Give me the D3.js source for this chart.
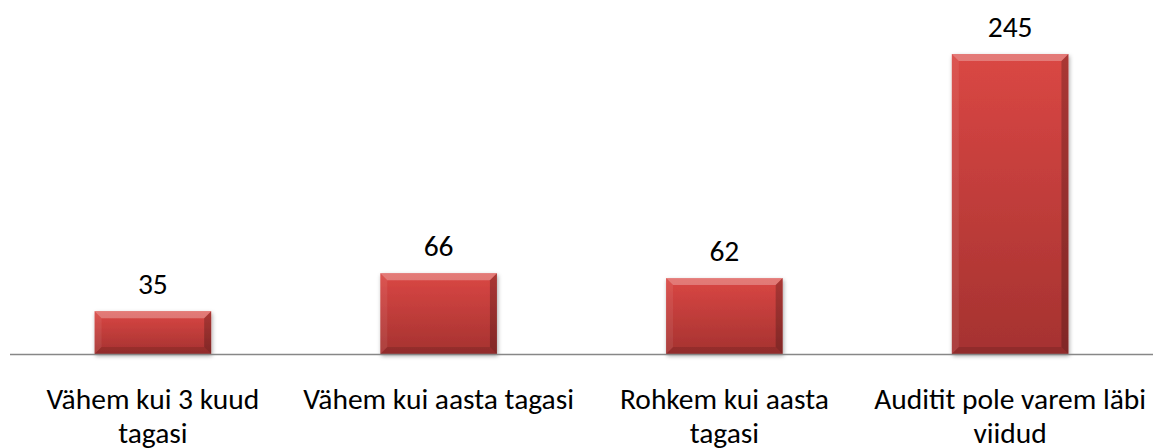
<!DOCTYPE html>
<html>
<head>
<meta charset="utf-8">
<script src="https://cdn.jsdelivr.net/npm/d3@7"></script>
<style>
  body { margin: 0; background: #fff; }
  svg text { font-family: Calibri, Carlito, Lato, sans-serif; fill: #000; }
</style>
</head>
<body>
<div id="chart"></div>
<script>
var width = 1153
var height = 448

// data
var categories = ["Vähem kui 3 kuud tagasi", "Vähem kui aasta tagasi", "Rohkem kui aasta tagasi", "Auditit pole varem läbi viidud"]
var values = [35, 66, 62, 245]

var fontSize = 29.5
var bevel = 7

var svg = d3.select("#chart").append("svg")
  .attr("width", width)
  .attr("height", height)

var defs = svg.append("defs")

var grad = defs.append("linearGradient")
  .attr("id", "barFill")
  .attr("x1", 0).attr("y1", 0).attr("x2", 0).attr("y2", 1)
grad.append("stop").attr("offset", "0%").attr("stop-color", "#da4744")
grad.append("stop").attr("offset", "100%").attr("stop-color", "#a53230")

var shadow = defs.append("filter")
  .attr("id", "shadow")
  .attr("x", "-10%").attr("y", "-10%").attr("width", "130%").attr("height", "130%")
shadow.append("feDropShadow")
  .attr("dx", 1).attr("dy", 2)
  .attr("stdDeviation", 2)
  .attr("flood-color", "#000")
  .attr("flood-opacity", 0.35)

var x = d3.scaleBand()
  .domain(categories)
  .range([10, 1153])
  .paddingInner(0.592)
  .paddingOuter(0.296)

var y = d3.scaleLinear()
  .domain([0, 245])
  .range([354, 54])

var data = categories.map(function(c, i) { return {name: c, value: values[i]} })

// bars
var bar = svg.selectAll(".bar")
  .data(data)
  .enter().append("g")
  .attr("class", "bar")

bar.append("rect")
  .attr("x", function(d) { return x(d.name) })
  .attr("y", function(d) { return y(d.value) })
  .attr("width", x.bandwidth())
  .attr("height", function(d) { return y(0) - y(d.value) })
  .attr("fill", "url(#barFill)")
  .attr("filter", "url(#shadow)")

function bevelPath(d, side) {
  var x0 = x(d.name), x1 = x0 + x.bandwidth()
  var y0 = y(d.value), y1 = y(0)
  var b = bevel
  var pts
  if (side == "top") pts = [[x0, y0], [x1, y0], [x1 - b, y0 + b], [x0 + b, y0 + b]]
  if (side == "left") pts = [[x0, y0], [x0 + b, y0 + b], [x0 + b, y1 - b], [x0, y1]]
  if (side == "right") pts = [[x1, y0], [x1, y1], [x1 - b, y1 - b], [x1 - b, y0 + b]]
  if (side == "bottom") pts = [[x0, y1], [x1, y1], [x1 - b, y1 - b], [x0 + b, y1 - b]]
  return "M" + pts.join("L") + "Z"
}

var bevels = [
  {side: "top", fill: "#fff", opacity: 0.28},
  {side: "left", fill: "#fff", opacity: 0.07},
  {side: "right", fill: "#000", opacity: 0.22},
  {side: "bottom", fill: "#000", opacity: 0.12}
]

bevels.forEach(function(bv) {
  bar.append("path")
    .attr("d", function(d) { return bevelPath(d, bv.side) })
    .attr("fill", bv.fill)
    .attr("fill-opacity", bv.opacity)
})

// value labels
bar.append("text")
  .attr("x", function(d) { return x(d.name) + x.bandwidth() / 2 })
  .attr("y", function(d) { return y(d.value) - 17 })
  .attr("text-anchor", "middle")
  .style("font-size", fontSize + "px")
  .text(function(d) { return d.value })

// axis line
svg.append("line")
  .attr("x1", 10).attr("x2", 1153)
  .attr("y1", y(0) + 0.5).attr("y2", y(0) + 0.5)
  .attr("stroke", "#878787")
  .attr("stroke-width", 1.3)

// category labels, wrapped
var labels = svg.selectAll(".cat")
  .data(categories)
  .enter().append("text")
  .attr("class", "cat")
  .attr("text-anchor", "middle")
  .style("font-size", fontSize + "px")
  .attr("y", 409)

labels.each(function(c) {
  var el = d3.select(this)
  var cx = x(c) + x.bandwidth() / 2
  var words = c.split(" ")
  var line = []
  var lineNo = 0
  var tspan = el.append("tspan").attr("x", cx).attr("y", 409)
  words.forEach(function(w) {
    line.push(w)
    tspan.text(line.join(" "))
    if (tspan.node().getComputedTextLength() > 276 && line.length > 1) {
      line.pop()
      tspan.text(line.join(" "))
      line = [w]
      lineNo++
      tspan = el.append("tspan").attr("x", cx).attr("y", 409 + lineNo * 34).text(w)
    }
  })
})
</script>
</body>
</html>
